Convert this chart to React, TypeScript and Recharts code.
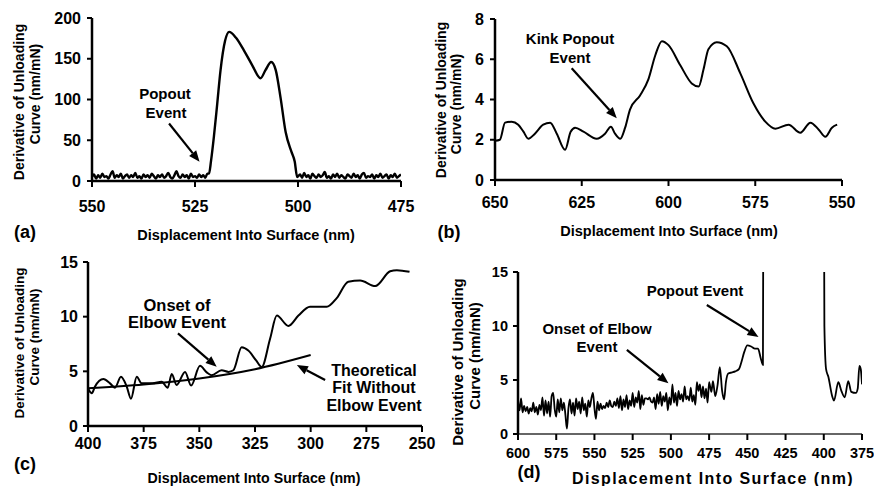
import React from 'react';
import { LineChart, Line, XAxis, YAxis, ReferenceLine } from 'recharts';

const FONT = '"Liberation Sans", Arial, Helvetica, sans-serif';

// (a) noisy baseline either side of the popout, 0.5 nm apart
const A_NOISE_LEFT = [
  5, 8, 3, 7, 4, 9, 5, 6, 3, 8, 12, 4, 7, 5, 9, 3, 6, 8, 4, 7,
  5, 10, 4, 6, 3, 8, 5, 7, 4, 9, 6, 3, 7, 5, 8, 4, 6, 10, 5, 3,
  7, 12, 6, 4, 8, 5, 7, 3, 9, 5, 6, 4, 8, 5, 7, 4, 9,
]; // 550 -> 522
const A_NOISE_RIGHT = [
  8, 4, 10, 5, 7, 3, 9, 6, 4, 8, 5, 7, 11, 4, 6, 3, 8, 5, 9, 4,
  7, 5, 3, 8, 6, 4, 9, 5, 7, 3, 8, 10, 4, 6, 5, 8, 3, 7, 5, 9,
  4, 6, 8, 3, 7, 5, 9, 4, 6, 8,
]; // 499.5 -> 475
const A_PEAK_X = [521.6, 521.1, 520.4, 519.6, 518.8, 517.7, 516.7, 515.1, 513.1, 511.1, 509.1, 507.9, 506.5, 505.4, 504.2, 503.0, 501.6, 500.8, 500.2];
const A_PEAK_Y = [9, 25, 55, 95, 136, 172, 183, 176, 160, 142, 126, 136, 146, 136, 101, 60, 36, 24, 5];

// (b) kink popout
const B_X = [650, 648.6, 647.1, 645.2, 643.3, 641.8, 640.4, 638.5, 636.1, 634.1, 632.2, 629.8, 628.2, 626.9, 624.5, 620.7, 618.3, 616.6, 615.4, 613.9, 612.5, 611.1, 608.2, 605.8, 603.8, 601.9, 600, 596.6, 593.3, 591.3, 589.9, 588.5, 586.1, 583.2, 579.3, 575.5, 572.1, 569.2, 565.4, 562, 559.1, 556.7, 554.8, 552.9, 551.4];
const B_Y = [1.95, 2.0, 2.85, 2.9, 2.75, 2.4, 2.05, 2.3, 2.75, 2.85, 2.3, 1.5, 2.4, 2.6, 2.4, 2.05, 2.3, 2.65, 2.3, 2.05, 2.6, 3.5, 4.2, 5.0, 6.2, 6.9, 6.7, 5.7, 4.8, 4.65, 5.5, 6.5, 6.85, 6.65, 5.3, 3.8, 2.9, 2.55, 2.75, 2.35, 2.85, 2.5, 2.15, 2.6, 2.75];

// (c) elbow event with theoretical fit
const C_X = [399.9, 398.3, 396.9, 393.1, 390.1, 387.9, 385.2, 382.6, 380.7, 378.1, 375.9, 371, 366.9, 364.2, 362.4, 360.2, 356.4, 353.7, 349.7, 346.7, 344.5, 340, 336.9, 334.7, 331, 328, 324.5, 322, 318.2, 315.2, 310, 305.5, 300.3, 292.8, 288.3, 283.1, 277.8, 271, 264.3, 261.3, 255.6];
const C_Y = [3.4, 3.0, 3.6, 4.3, 3.9, 3.5, 4.5, 3.6, 2.5, 4.5, 3.9, 3.9, 4.05, 3.5, 4.75, 3.75, 4.95, 3.7, 5.5, 4.9, 4.65, 5.1, 4.95, 5.1, 7.2, 6.9, 6.0, 5.4, 8.0, 10.1, 9.15, 10.1, 10.9, 10.9, 11.7, 13.2, 13.3, 12.8, 14.15, 14.25, 14.1];
const C_FIT_X = [400, 375, 350, 325, 300];
const C_FIT_Y = [3.45, 3.8, 4.35, 5.2, 6.5];

// (d) noisy section 600 -> 476 at 1 nm, then the popout and recovery
const D_NOISE = [
  3.1, 2.2, 3.3, 2.0, 2.6, 2.1, 2.5, 1.9, 2.4, 2.1,
  2.9, 2.0, 2.5, 1.8, 2.7, 2.2, 3.4, 1.7, 3.1, 1.9,
  3.0, 1.6, 3.5, 3.8, 2.3, 1.6, 3.2, 2.0, 3.3, 2.2,
  2.9, 1.8, 0.5, 2.4, 3.2, 1.9, 2.9, 1.7, 3.3, 2.3,
  3.0, 1.9, 3.4, 2.2, 2.8, 1.6, 3.1, 2.5, 3.3, 3.8,
  2.4, 1.4, 3.0, 2.2, 2.8, 2.3, 2.6, 2.4, 2.9, 2.5,
  3.1, 2.6, 2.5, 3.0, 2.6, 3.3, 2.4, 3.5, 2.2, 3.2,
  2.5, 3.6, 2.3, 3.1, 2.6, 3.8, 2.5, 3.4, 2.9, 4.0,
  2.3, 3.6, 2.7, 3.3, 3.3, 3.2, 3.4, 3.0, 2.9, 3.4,
  2.3, 3.7, 2.8, 3.9, 2.6, 3.5, 3.0, 3.8, 2.2, 3.4,
  2.7, 4.6, 2.9, 3.8, 2.6, 4.0, 3.2, 3.7, 3.0, 4.4,
  3.2, 3.5, 3.1, 4.3, 3.0, 3.6, 2.7, 4.8, 4.0, 4.6,
  3.4, 4.4, 3.3, 4.2, 2.9,
];
const D_TAIL_X = [475, 473.5, 472.5, 471, 469.5, 468, 466.5, 465.2, 464, 462.5, 460, 457.9, 455.5, 454, 452, 450, 447.5, 445, 443, 441.2, 439.8, 439.2, 420, 400.3, 399.6, 398.5, 397, 394.5, 393.3, 390.5, 388.5, 386.3, 384, 382, 379, 377.8, 376.7, 375.8, 375];
const D_TAIL_Y = [4.8, 3.9, 4.9, 3.5, 4.5, 6.2, 4.0, 3.2, 4.8, 5.6, 5.7, 5.8, 6.0, 6.6, 7.6, 8.2, 8.1, 7.9, 7.9, 7.0, 6.4, 40, null, 40, 10, 6.0, 5.3, 3.5, 3.1, 4.8, 4.0, 3.4, 4.9, 3.9, 3.8, 4.2, 6.3, 6.0, 4.6];

type Pt = { x: number; y: number | null };
const zip = (xs: number[], ys: (number | null)[]): Pt[] => xs.map((x, i) => ({ x, y: ys[i] }));
const stepped = (start: number, step: number, ys: number[]): Pt[] =>
  ys.map((y, i) => ({ x: +(start - i * step).toFixed(2), y }));

const dataA = [...stepped(550, 0.5, A_NOISE_LEFT), ...zip(A_PEAK_X, A_PEAK_Y), ...stepped(499.5, 0.5, A_NOISE_RIGHT)];
const dataB = zip(B_X, B_Y);
const dataC = zip(C_X, C_Y);
const dataCFit = zip(C_FIT_X, C_FIT_Y);
const dataD = [...stepped(600, 1, D_NOISE), ...zip(D_TAIL_X, D_TAIL_Y)];

// arrow drawn from the first segment point (tail) to the second (head)
const Arrow = (props: any) => {
  const { x1, y1, x2, y2 } = props;
  const a = Math.atan2(y2 - y1, x2 - x1);
  const len = 11;
  const half = 4.5;
  const bx = x2 - len * Math.cos(a);
  const by = y2 - len * Math.sin(a);
  const px = -Math.sin(a) * half;
  const py = Math.cos(a) * half;
  return (
    <g>
      <line x1={x1} y1={y1} x2={bx} y2={by} stroke="#000" strokeWidth={2.2} />
      <polygon points={`${x2},${y2} ${bx + px},${by + py} ${bx - px},${by - py}`} fill="#000" />
    </g>
  );
};

const Y_W = 50;
const X_H = 40;

interface PanelProps {
  box: { left: number; top: number; width: number; height: number };
  plot: { l: number; t: number; r: number; b: number };
  xDomain: [number, number];
  xTicks: number[];
  yDomain: [number, number];
  yTicks: number[];
  fontSize: number;
  xGap: number;
  yGap: number;
  xAxisLine?: any;
  children: React.ReactNode;
}

const Panel = ({ box, plot, xDomain, xTicks, yDomain, yTicks, fontSize, xGap, yGap, xAxisLine, children }: PanelProps) => {
  const margin = {
    left: plot.l - box.left - Y_W,
    top: plot.t - box.top,
    right: box.left + box.width - plot.r,
    bottom: box.top + box.height - plot.b - X_H,
  };
  const tick = { fill: '#000', fontSize, fontWeight: 700, fontFamily: FONT };
  return (
    <div style={{ position: 'absolute', left: box.left, top: box.top }}>
      <LineChart width={box.width} height={box.height} margin={margin}>
        <XAxis
          type="number"
          dataKey="x"
          domain={xDomain}
          ticks={xTicks}
          interval={0}
          reversed
          allowDataOverflow
          height={X_H}
          tick={tick}
          tickSize={6}
          tickMargin={xGap}
          axisLine={xAxisLine ?? { stroke: '#000', strokeWidth: 2.5 }}
          tickLine={{ stroke: '#000', strokeWidth: 2 }}
        />
        <YAxis
          type="number"
          domain={yDomain}
          ticks={yTicks}
          interval={0}
          allowDataOverflow
          width={Y_W}
          tick={tick}
          tickSize={5}
          tickMargin={yGap}
          axisLine={{ stroke: '#000', strokeWidth: 2.5 }}
          tickLine={{ stroke: '#000', strokeWidth: 2 }}
        />
        {children}
      </LineChart>
    </div>
  );
};

type Txt = [string, number, number, number];

const Y_LABELS: Txt[] = [
  ['Derivative of Unloading', 18.5, 102, 14],
  ['Curve (nm/mN)', 35, 94, 14],
  ['Derivative of Unloading', 441, 100, 14],
  ['Curve (nm/mN)', 456, 104, 14],
  ['Derivative of Unloading', 19, 343, 13.5],
  ['Curve (nm/mN)', 34.5, 337, 13.5],
  ['Derivative of Unloading', 457.5, 362, 15],
  ['Curve (nm/mN)', 474, 356, 15],
];

const LABELS: Txt[] = [
  ['Popout', 165, 93, 15],
  ['Event', 166, 112, 15],
  ['Kink Popout', 570, 38, 15],
  ['Event', 570, 57, 15],
  ['Onset of', 177, 305, 16.5],
  ['Elbow Event', 177, 322, 16.5],
  ['Theoretical', 374, 370, 16],
  ['Fit Without', 374, 387, 16],
  ['Elbow Event', 374, 405, 16],
  ['Popout Event', 695, 290, 15],
  ['Onset of Elbow', 597, 328, 15],
  ['Event', 597, 346, 15],
];

const TITLES: [number, number, number, number][] = [
  [246, 235, 14.5, 0],
  [669, 231, 14.5, 0],
  [254, 478, 14.2, 0],
  [713, 478, 16, 1.4],
];

const LETTERS: Txt[] = [
  ['(a)', 25, 232, 18],
  ['(b)', 449, 232, 18],
  ['(c)', 25, 464, 18],
  ['(d)', 529, 472, 18],
];

export default function App() {
  return (
    <div style={{ position: 'absolute', left: 0, top: 0, width: 874, height: 486, background: '#fff', fontFamily: FONT }}>
      <Panel
        box={{ left: 0, top: 0, width: 437, height: 250 }}
        plot={{ l: 92, t: 18, r: 401, b: 181 }}
        xDomain={[475, 550]}
        xTicks={[550, 525, 500, 475]}
        yDomain={[0, 200]}
        yTicks={[0, 50, 100, 150, 200]}
        fontSize={16}
        xGap={14}
        yGap={6}
      >
        <Line data={dataA} dataKey="y" type="monotone" stroke="#000" strokeWidth={2.4} dot={false} isAnimationActive={false} />
        <ReferenceLine segment={[{ x: 531.3, y: 70.5 }, { x: 523.9, y: 23.6 }]} shape={Arrow} ifOverflow="visible" />
      </Panel>

      <Panel
        box={{ left: 437, top: 0, width: 437, height: 250 }}
        plot={{ l: 495, t: 19, r: 842, b: 180 }}
        xDomain={[550, 650]}
        xTicks={[650, 625, 600, 575, 550]}
        yDomain={[0, 8]}
        yTicks={[0, 2, 4, 6, 8]}
        fontSize={16}
        xGap={11}
        yGap={6}
      >
        <Line data={dataB} dataKey="y" type="monotone" stroke="#000" strokeWidth={2} dot={false} isAnimationActive={false} />
        <ReferenceLine segment={[{ x: 627.9, y: 5.55 }, { x: 614.9, y: 3.07 }]} shape={Arrow} ifOverflow="visible" />
      </Panel>

      <Panel
        box={{ left: 0, top: 250, width: 437, height: 236 }}
        plot={{ l: 88, t: 262, r: 422, b: 426 }}
        xDomain={[250, 400]}
        xTicks={[400, 375, 350, 325, 300, 275, 250]}
        yDomain={[0, 15]}
        yTicks={[0, 5, 10, 15]}
        fontSize={16}
        xGap={6}
        yGap={5}
      >
        <Line data={dataCFit} dataKey="y" type="monotone" stroke="#000" strokeWidth={2} dot={false} isAnimationActive={false} />
        <Line data={dataC} dataKey="y" type="monotone" stroke="#000" strokeWidth={2} dot={false} isAnimationActive={false} />
        <ReferenceLine segment={[{ x: 359.6, y: 8.47 }, { x: 342.2, y: 5.42 }]} shape={Arrow} ifOverflow="visible" />
        <ReferenceLine segment={[{ x: 293.5, y: 4.2 }, { x: 306.2, y: 5.57 }]} shape={Arrow} ifOverflow="visible" />
      </Panel>

      <Panel
        box={{ left: 437, top: 250, width: 437, height: 236 }}
        plot={{ l: 518, t: 272, r: 862, b: 434 }}
        xDomain={[375, 600]}
        xTicks={[600, 575, 550, 525, 500, 475, 450, 425, 400, 375]}
        yDomain={[0, 15]}
        yTicks={[0, 5, 10, 15]}
        fontSize={14.5}
        xGap={8}
        yGap={5}
        xAxisLine={{ stroke: '#333', strokeWidth: 1.5 }}
      >
        <Line data={dataD} dataKey="y" type="monotone" stroke="#000" strokeWidth={1.8} dot={false} connectNulls={false} isAnimationActive={false} />
        <ReferenceLine segment={[{ x: 476.5, y: 11.94 }, { x: 442.7, y: 8.99 }]} shape={Arrow} ifOverflow="visible" />
        <ReferenceLine segment={[{ x: 528.8, y: 7.78 }, { x: 501.6, y: 4.7 }]} shape={Arrow} ifOverflow="visible" />
      </Panel>

      <svg width={874} height={486} style={{ position: 'absolute', left: 0, top: 0, pointerEvents: 'none' }}>
        <g fontFamily={FONT} fontWeight={700} fill="#000" textAnchor="middle">
          {Y_LABELS.map(([t, x, y, fs], i) => (
            <text key={`yl-${i}`} transform={`translate(${x},${y}) rotate(-90)`} fontSize={fs} dominantBaseline="central">
              {t}
            </text>
          ))}
          {LABELS.map(([t, x, y, fs], i) => (
            <text key={`lb-${i}`} x={x} y={y} fontSize={fs} dominantBaseline="central">
              {t}
            </text>
          ))}
          {TITLES.map(([x, y, fs, ls], i) => (
            <text key={`tt-${i}`} x={x} y={y} fontSize={fs} letterSpacing={ls} dominantBaseline="central">
              Displacement Into Surface (nm)
            </text>
          ))}
          {LETTERS.map(([t, x, y, fs], i) => (
            <text key={`lt-${i}`} x={x} y={y} fontSize={fs} dominantBaseline="central">
              {t}
            </text>
          ))}
        </g>
      </svg>
    </div>
  );
}
